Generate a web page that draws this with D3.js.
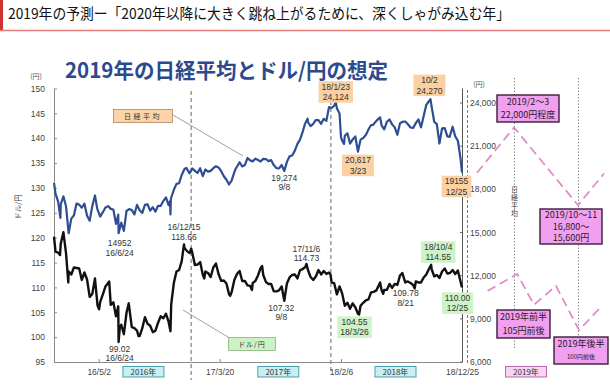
<!DOCTYPE html>
<html><head><meta charset="utf-8">
<script src="https://cdn.jsdelivr.net/npm/d3@7"></script>
<style>body{margin:0;background:#fff}svg{display:block}</style>
</head><body>
<svg id="c" width="610" height="387"></svg>
<script>
// ---------------- DATA ----------------
const nikkei2016 = [["2016-01-04",18451],["2016-01-08",17698],["2016-01-15",17147],["2016-01-21",16017],["2016-01-22",16958],["2016-01-29",17518],["2016-02-05",16819],["2016-02-12",14952],["2016-02-19",15967],["2016-02-26",16188],["2016-03-04",17014],["2016-03-11",16938],["2016-03-18",16724],["2016-03-25",17002],["2016-04-01",16164],["2016-04-08",15821],["2016-04-15",16848],["2016-04-22",17572],["2016-04-28",16666],["2016-05-06",16106],["2016-05-13",16412],["2016-05-20",16736],["2016-05-27",16834],["2016-06-03",16642],["2016-06-10",16601],["2016-06-17",15599],["2016-06-23",16238],["2016-06-24",14952],["2016-07-01",15682],["2016-07-08",15106],["2016-07-15",16497],["2016-07-22",16627],["2016-07-29",16569],["2016-08-05",16254],["2016-08-12",16919],["2016-08-19",16545],["2016-08-26",16360],["2016-09-02",16925],["2016-09-09",16965],["2016-09-16",16519],["2016-09-23",16754],["2016-09-30",16449],["2016-10-07",16860],["2016-10-14",16856],["2016-10-21",17184],["2016-10-28",17446],["2016-11-04",16905],["2016-11-08",17171],["2016-11-09",16251],["2016-11-10",17344],["2016-11-18",17967],["2016-11-25",18381],["2016-12-02",18426],["2016-12-09",18996],["2016-12-16",19401],["2016-12-21",19494],["2016-12-30",19114]];
const nikkei2017 = [["2017-01-06",19454],["2017-01-13",19287],["2017-01-20",19137],["2017-01-27",19467],["2017-02-03",18918],["2017-02-10",19378],["2017-02-17",19234],["2017-02-24",19283],["2017-03-03",19469],["2017-03-10",19604],["2017-03-17",19521],["2017-03-24",19262],["2017-03-31",18909],["2017-04-07",18665],["2017-04-14",18335],["2017-04-21",18620],["2017-04-28",19197],["2017-05-02",19445],["2017-05-12",19883],["2017-05-19",19591],["2017-05-26",19686],["2017-06-02",20177],["2017-06-09",20013],["2017-06-16",19943],["2017-06-23",20132],["2017-06-30",20033],["2017-07-07",19929],["2017-07-14",20118],["2017-07-21",20099],["2017-07-28",19959],["2017-08-04",20029],["2017-08-10",19729],["2017-08-18",19470],["2017-08-25",19452],["2017-09-01",19691],["2017-09-08",19274],["2017-09-15",19909],["2017-09-22",20296],["2017-09-29",20356],["2017-10-06",20690],["2017-10-13",21155],["2017-10-20",21457],["2017-10-27",22008],["2017-11-02",22539],["2017-11-09",22913],["2017-11-10",22681],["2017-11-17",22397],["2017-11-24",22550],["2017-12-01",22819],["2017-12-08",22811],["2017-12-15",22553],["2017-12-22",22902],["2017-12-29",22765]];
const nikkei2018 = [["2018-01-05",23714],["2018-01-12",23653],["2018-01-19",23808],["2018-01-23",24124],["2018-01-26",23631],["2018-02-02",23274],["2018-02-06",21610],["2018-02-09",21383],["2018-02-14",21154],["2018-02-16",21720],["2018-02-23",21892],["2018-03-02",21182],["2018-03-09",21469],["2018-03-16",21676],["2018-03-23",20617],["2018-03-30",21454],["2018-04-06",21568],["2018-04-13",21778],["2018-04-20",22162],["2018-04-27",22467],["2018-05-02",22473],["2018-05-11",22758],["2018-05-18",22930],["2018-05-21",23002],["2018-05-25",22450],["2018-06-01",22171],["2018-06-08",22694],["2018-06-15",22851],["2018-06-22",22516],["2018-06-29",22304],["2018-07-06",21788],["2018-07-13",22597],["2018-07-20",22698],["2018-07-27",22712],["2018-08-03",22525],["2018-08-10",22298],["2018-08-17",22270],["2018-08-24",22601],["2018-08-31",22865],["2018-09-07",22307],["2018-09-14",23094],["2018-09-21",23870],["2018-09-28",24120],["2018-10-02",24270],["2018-10-05",23784],["2018-10-12",22694],["2018-10-19",22532],["2018-10-26",21184],["2018-11-02",22243],["2018-11-09",22250],["2018-11-16",21680],["2018-11-22",21646],["2018-11-30",22351],["2018-12-07",21679],["2018-12-14",21374],["2018-12-21",20166],["2018-12-25",19155]];

const usd2016 = [["2016-01-04",120.2],["2016-01-08",117.2],["2016-01-15",117.0],["2016-01-20",116.5],["2016-01-22",118.8],["2016-01-29",121.1],["2016-02-05",116.9],["2016-02-11",111.0],["2016-02-12",113.2],["2016-02-19",112.6],["2016-02-26",114.0],["2016-03-04",113.9],["2016-03-11",113.8],["2016-03-18",111.5],["2016-03-25",113.0],["2016-04-01",111.6],["2016-04-08",108.1],["2016-04-15",108.7],["2016-04-22",111.8],["2016-04-29",106.3],["2016-05-03",105.6],["2016-05-06",107.1],["2016-05-13",108.6],["2016-05-20",110.2],["2016-05-30",111.2],["2016-06-03",106.5],["2016-06-10",107.0],["2016-06-17",104.2],["2016-06-23",106.2],["2016-06-24",99.02],["2016-06-27",101.8],["2016-07-01",102.5],["2016-07-08",100.6],["2016-07-15",104.9],["2016-07-21",106.8],["2016-07-29",102.0],["2016-08-05",101.8],["2016-08-12",101.3],["2016-08-16",100.2],["2016-08-19",100.2],["2016-08-26",101.8],["2016-09-02",104.0],["2016-09-09",102.7],["2016-09-16",102.3],["2016-09-23",101.0],["2016-09-30",101.3],["2016-10-07",102.9],["2016-10-14",104.2],["2016-10-21",103.8],["2016-10-28",104.7],["2016-11-04",103.1],["2016-11-09",101.2],["2016-11-11",106.6],["2016-11-18",110.9],["2016-11-25",113.2],["2016-12-02",113.5],["2016-12-09",115.3],["2016-12-15",118.66],["2016-12-16",118.0],["2016-12-23",117.3],["2016-12-30",116.9]];
const usd2017 = [["2017-01-03",117.8],["2017-01-06",117.0],["2017-01-13",114.5],["2017-01-20",114.6],["2017-01-27",115.1],["2017-02-03",112.6],["2017-02-07",111.8],["2017-02-10",113.2],["2017-02-17",112.9],["2017-02-24",112.1],["2017-03-03",114.0],["2017-03-10",114.8],["2017-03-17",112.7],["2017-03-24",111.3],["2017-03-31",111.4],["2017-04-07",110.8],["2017-04-14",108.6],["2017-04-17",108.3],["2017-04-21",109.1],["2017-04-28",111.5],["2017-05-05",112.7],["2017-05-12",113.3],["2017-05-19",111.3],["2017-05-26",111.3],["2017-06-02",110.4],["2017-06-09",110.3],["2017-06-14",109.5],["2017-06-16",110.9],["2017-06-23",111.3],["2017-06-30",112.4],["2017-07-07",113.9],["2017-07-11",114.3],["2017-07-14",112.5],["2017-07-21",111.1],["2017-07-28",110.7],["2017-08-04",110.7],["2017-08-11",109.2],["2017-08-18",109.2],["2017-08-25",109.4],["2017-09-01",110.2],["2017-09-08",107.32],["2017-09-15",110.8],["2017-09-22",112.0],["2017-09-29",112.5],["2017-10-06",112.6],["2017-10-13",111.8],["2017-10-20",113.5],["2017-10-27",113.7],["2017-11-03",114.1],["2017-11-06",114.73],["2017-11-10",113.5],["2017-11-17",112.1],["2017-11-24",111.5],["2017-12-01",112.2],["2017-12-08",113.5],["2017-12-15",112.6],["2017-12-22",113.3],["2017-12-29",112.7]];
const usd2018 = [["2018-01-05",113.0],["2018-01-09",112.6],["2018-01-12",111.0],["2018-01-19",110.8],["2018-01-26",108.6],["2018-02-02",110.2],["2018-02-09",108.8],["2018-02-16",106.3],["2018-02-23",106.9],["2018-03-02",105.7],["2018-03-09",106.8],["2018-03-16",106.0],["2018-03-23",104.7],["2018-03-26",104.55],["2018-03-30",106.3],["2018-04-06",106.9],["2018-04-13",107.4],["2018-04-20",107.6],["2018-04-27",109.0],["2018-05-04",109.1],["2018-05-11",109.4],["2018-05-21",111.0],["2018-05-25",109.4],["2018-05-29",108.7],["2018-06-01",109.5],["2018-06-08",109.5],["2018-06-15",110.7],["2018-06-22",109.9],["2018-06-29",110.7],["2018-07-06",110.5],["2018-07-13",112.4],["2018-07-19",112.9],["2018-07-27",111.0],["2018-08-03",111.2],["2018-08-10",110.9],["2018-08-17",110.5],["2018-08-21",109.78],["2018-08-24",111.2],["2018-08-31",111.0],["2018-09-07",111.0],["2018-09-14",112.0],["2018-09-21",112.6],["2018-09-28",113.7],["2018-10-04",114.55],["2018-10-05",113.7],["2018-10-12",112.2],["2018-10-19",112.5],["2018-10-26",111.9],["2018-11-02",113.2],["2018-11-09",113.8],["2018-11-16",112.8],["2018-11-23",112.9],["2018-11-30",113.5],["2018-12-07",112.7],["2018-12-14",113.4],["2018-12-21",111.2],["2018-12-25",110.0]];

// 2019 scenario (month of 2019, value)
const nikkeiForecast = [[0.4,19155],[2.5,22300],[10.5,16900],[12,19100]];
const usdForecast = [[1.0,109.3],[2.9,112.7],[5.0,106.5],[7.75,110.3],[10.56,101.4],[11.8,106.0]];

const leftTicks = [95,100,105,110,115,120,125,130,135,140,145,150];
const rightTicks = [6000,9000,12000,15000,18000,21000,24000];
const dateTicks = ["2016-05-02","2017-03-20","2018-02-06","2018-12-25"];
const yearLabels = [["2016年","2016-08-29"],["2017年","2017-08-23"],["2018年","2018-07-01"]];
const dividerDates = ["2017-01-03","2018-01-10"];

const nikkeiNotes = [
  ["2016-06-24",14952,["14952","16/6/24"],null],
  ["2017-09-08",19274,["19,274","9/8"],null],
  ["2018-01-23",24124,["18/1/23","24,124"],"o"],
  ["2018-03-23",20617,["20,617","3/23"],"o"],
  ["2018-10-02",24270,["10/2","24,270"],"o"],
  ["2018-12-25",19155,["19155","12/25"],"o"]
];
const usdNotes = [
  ["2016-06-24",99.02,["99.02","16/6/24"],null],
  ["2016-12-15",118.66,["16/12/15","118.66"],null],
  ["2017-09-08",107.32,["107.32","9/8"],null],
  ["2017-11-06",114.73,["17/11/6","114.73"],null],
  ["2018-03-26",104.55,["104.55","18/3/26"],"g"],
  ["2018-08-21",109.78,["109.78","8/21"],null],
  ["2018-10-04",114.55,["18/10/4","114.55"],"g"],
  ["2018-12-25",110.00,["110.00","12/25"],"g"]
];
const scenarioNotes = [
  ["2019/2～3","22,000円程度"],
  ["2019/10～11","16,800～","15,600円"],
  ["2019年前半","105円前後"],
  ["2019年後半","100円前後"]
];

// ---------------- LAYOUT ----------------
const JP = "'Noto Sans CJK JP','Noto Sans',sans-serif";
const NUM = "'Liberation Sans',Arial,sans-serif";
const nikkeiOff = [[1,10],[0,7],[0,-14.5],[0,8.5],[-1,-19],[-5.5,8.5]];
const usdOff = [[1,7],[0,-17],[-3,7],[0,-15],[-4.5,7.5],[-9,5],[7,-18],[-4.5,10.5]];
const scenarioBoxes = [[497,95,62,27],[540,209,62,35],[497,310,53,28],[554,337,54,27]];

const parse = d3.timeParse("%Y-%m-%d");
const svg = d3.select("#c");
const x = d3.scaleTime().domain([parse("2016-01-04"), parse("2018-12-25")]).range([54, 462]);
const yL = d3.scaleLinear().domain([95, 150]).range([362, 88.5]);
const yN = d3.scaleLinear().domain([6000, 24000]).range([362, 103]);
const fx = d3.scaleLinear().domain([0, 2.5, 10.5, 12]).range([470, 514, 578, 604]);

// header
svg.append("rect").attr("x",0).attr("y",0).attr("width",3).attr("height",31).attr("fill","#d0312d");
svg.append("line").attr("x1",0).attr("x2",610).attr("y1",30.5).attr("y2",30.5).attr("stroke","#e27a7a").attr("stroke-width",1.5);
svg.append("text").attr("x",8).attr("y",19).attr("font-family",JP).attr("font-size",15).attr("fill","#111")
  .attr("textLength",502).attr("lengthAdjust","spacingAndGlyphs")
  .text("2019年の予測ー「2020年以降に大きく跳ね上がるために、深くしゃがみ込む年」");
svg.append("text").attr("x",65).attr("y",78).attr("font-family",JP).attr("font-weight","bold").attr("font-size",21)
  .attr("fill","#2c4a8c").attr("textLength",323).attr("lengthAdjust","spacingAndGlyphs")
  .text("2019年の日経平均とドル/円の想定");

// divider lines
dividerDates.forEach((d,i)=>{
  svg.append("line").attr("x1",x(parse(d))).attr("x2",x(parse(d)))
    .attr("y1", i===0?91:101).attr("y2", i===0?380:372)
    .attr("stroke","#666").attr("stroke-width",1).attr("stroke-dasharray","4,3");
});
// 2019 dotted guides
[[2.5,348],[10.5,336]].forEach(([m,yb])=>{
  svg.append("line").attr("x1",fx(m)+0.5).attr("x2",fx(m)+0.5).attr("y1",78).attr("y2",yb)
    .attr("stroke","#777").attr("stroke-width",1).attr("stroke-dasharray","1.2,2");
});

// left axis
const gL = svg.append("g").attr("transform","translate(54,0)")
  .call(d3.axisLeft(yL).tickValues(leftTicks).tickSize(-3).tickSizeOuter(0).tickPadding(9));
gL.select(".domain").attr("stroke","#8a8a8a");
gL.selectAll(".tick line").attr("stroke","#8a8a8a");
gL.selectAll("text").attr("font-family",NUM).attr("font-size",8.5).attr("fill","#444");
svg.append("text").attr("x",36).attr("y",79).attr("text-anchor","middle").attr("font-family",JP).attr("font-size",7).attr("fill","#555").text("(円)");
svg.append("text").attr("transform","translate(21,207) rotate(-90)").attr("text-anchor","middle")
  .attr("font-family",JP).attr("font-size",7.5).attr("fill","#444").text("ドル/円");

// bottom axis
const gB = svg.append("g").attr("transform","translate(0,362)")
  .call(d3.axisBottom(x).tickValues(dateTicks.map(parse)).tickFormat(d3.timeFormat("%y/%-m/%-d")).tickSize(-3).tickSizeOuter(0).tickPadding(7));
gB.select(".domain").attr("stroke","#8a8a8a");
gB.selectAll(".tick line").attr("stroke","#8a8a8a");
gB.selectAll("text").attr("font-family",NUM).attr("font-size",8.5).attr("fill","#444");
// right frame line
svg.append("line").attr("x1",462.5).attr("x2",462.5).attr("y1",88.5).attr("y2",362).attr("stroke","#555").attr("stroke-width",1);

// right Nikkei axis
svg.append("line").attr("x1",467.5).attr("x2",467.5).attr("y1",90).attr("y2",363).attr("stroke","#777").attr("stroke-dasharray","3,2");
const gR = svg.append("g");
rightTicks.forEach(v=>{
  gR.append("line").attr("x1",460).attr("x2",463).attr("y1",yN(v)).attr("y2",yN(v)).attr("stroke","#666");
  gR.append("text").attr("x",470).attr("y",yN(v)+3).attr("font-family",NUM).attr("font-size",8.5).attr("fill","#444").text(d3.format(",")(v));
});
svg.append("text").attr("x",479).attr("y",87).attr("text-anchor","middle").attr("font-family",JP).attr("font-size",7).attr("fill","#555").text("(円)");
svg.append("text").attr("x",fx(2.5)+0.5).attr("y",186).attr("writing-mode","vertical-rl").attr("style","writing-mode:vertical-rl")
  .attr("font-family",JP).attr("font-size",7).attr("letter-spacing",1).attr("fill","#444").text("日経平均");

// year labels
function yearBox(cx, label, fill, stroke){
  svg.append("rect").attr("x",cx-20.5).attr("y",366.5).attr("width",41).attr("height",10.5).attr("fill",fill).attr("stroke",stroke).attr("stroke-width",1);
  svg.append("text").attr("x",cx).attr("y",374.8).attr("text-anchor","middle").attr("font-family",JP).attr("font-size",8).attr("fill","#333").text(label);
}
yearLabels.forEach(([l,d])=>yearBox(x(parse(d)), l, "#c9eff3", "#4aa0ad"));
yearBox(fx(4.0), "2019年", "#f8d3f2", "#b96aa9");

// series
const toPts = arr => arr.map(([d,v])=>({d:parse(d),v}));
const nikkei = toPts([...nikkei2016,...nikkei2017,...nikkei2018]);
const usd = toPts([...usd2016,...usd2017,...usd2018]);
svg.append("path").datum(nikkei).attr("fill","none").attr("stroke","#2f4d92").attr("stroke-width",2.2).attr("stroke-linejoin","round")
  .attr("d", d3.line().x(p=>x(p.d)).y(p=>yN(p.v)));
svg.append("path").datum(usd).attr("fill","none").attr("stroke","#111").attr("stroke-width",2.4).attr("stroke-linejoin","round")
  .attr("d", d3.line().x(p=>x(p.d)).y(p=>yL(p.v)));

// forecasts
svg.append("path").datum(nikkeiForecast).attr("fill","none").attr("stroke","#e48ccb").attr("stroke-width",1.8).attr("stroke-dasharray","9,5")
  .attr("d", d3.line().x(p=>fx(p[0])).y(p=>yN(p[1])));
svg.append("path").datum(usdForecast).attr("fill","none").attr("stroke","#e48ccb").attr("stroke-width",1.8).attr("stroke-dasharray","9,5")
  .attr("d", d3.line().x(p=>fx(p[0])).y(p=>yL(p[1])));

// series labels with connectors
svg.append("line").attr("x1",173).attr("y1",115).attr("x2",243).attr("y2",156).attr("stroke","#888").attr("stroke-width",0.8);
svg.append("rect").attr("x",113.5).attr("y",109.5).attr("width",59).attr("height",13).attr("fill","#fbd3a6").attr("stroke","#9a7a5a").attr("stroke-width",0.7);
svg.append("text").attr("x",143).attr("y",118.5).attr("text-anchor","middle").attr("font-family",JP).attr("font-size",7).attr("letter-spacing",2.5).attr("fill","#333").text("日経平均");
svg.append("line").attr("x1",183).attr("y1",310).attr("x2",228).attr("y2",337).attr("stroke","#888").attr("stroke-width",0.8);
svg.append("rect").attr("x",228.5).attr("y",337.5).attr("width",47).attr("height",13).attr("fill","#cdf3c4").attr("stroke","#7aa870").attr("stroke-width",0.7);
svg.append("text").attr("x",252).attr("y",346.5).attr("text-anchor","middle").attr("font-family",JP).attr("font-size",7).attr("letter-spacing",1).attr("fill","#333").text("ドル/円");

// value notes
function notes(list, offs, yS){
  list.forEach(([d,v,lines,box],i)=>{
    const cx = x(parse(d)) + offs[i][0];
    const cy = yS(v) + offs[i][1];
    const gap = box ? 10.5 : 9.5;
    const g = svg.append("g");
    const r = box ? g.append("rect") : null;
    let w = 0;
    lines.forEach((t,j)=>{
      const tx = g.append("text").attr("x",cx).attr("y",cy+j*gap).attr("dy","0.35em").attr("text-anchor","middle")
        .attr("font-family",NUM).attr("font-size",8.5).attr("fill","#333").text(t);
      w = Math.max(w, tx.node().getComputedTextLength());
    });
    if (r) {
      r.attr("x",cx-w/2-3).attr("y",cy-5.5).attr("width",w+6).attr("height",gap*(lines.length-1)+11)
        .attr("fill", box==="o" ? "#fbd0a2" : "#cef3c6");
    }
  });
}
notes(nikkeiNotes, nikkeiOff, yN);
notes(usdNotes, usdOff, yL);

// scenario boxes
scenarioNotes.forEach((lines,i)=>{
  const [bx,by,bw,bh] = scenarioBoxes[i];
  svg.append("rect").attr("x",bx).attr("y",by).attr("width",bw).attr("height",bh).attr("fill","#f0a0ee").attr("stroke","#3b1d38").attr("stroke-width",1.4);
  const n = lines.length, step = bh/(n+0.1);
  lines.forEach((t,j)=>{
    const small = (i===3 && j===1);
    svg.append("text").attr("x",bx+bw/2).attr("y",by+step*(j+0.55)).attr("dy","0.35em").attr("text-anchor","middle")
      .attr("font-family",JP).attr("font-size", small?6:9).attr("fill","#2a1a2a").text(t);
  });
});
</script>
</body></html>
